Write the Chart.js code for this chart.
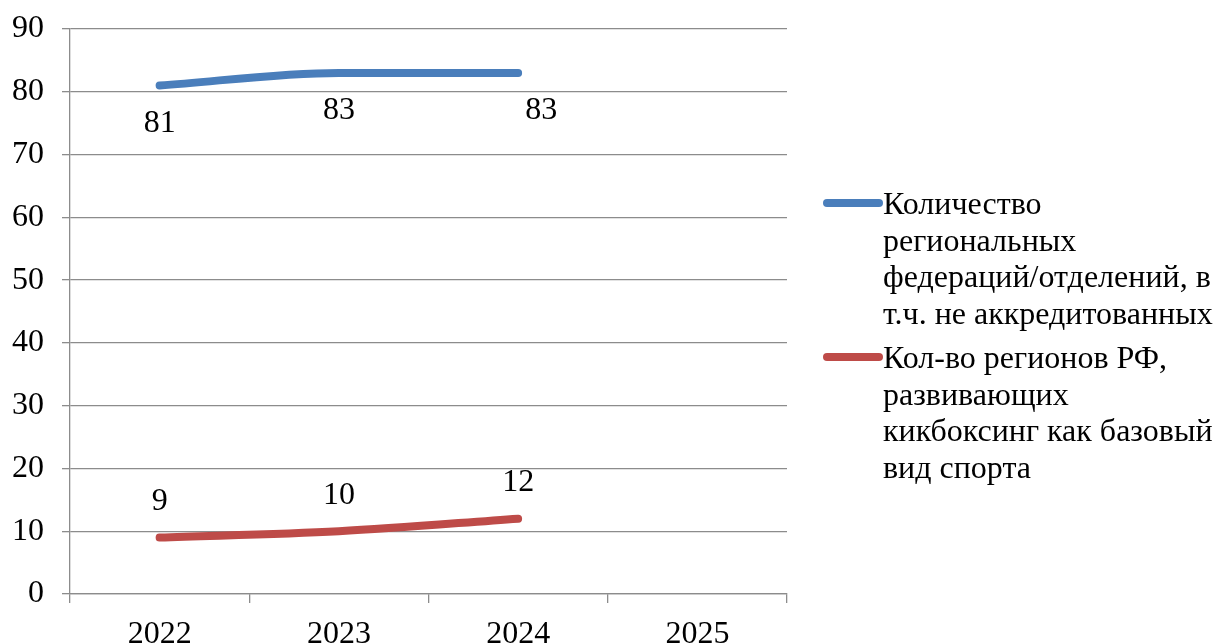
<!DOCTYPE html>
<html lang="ru">
<head>
  <meta charset="UTF-8" />
  <title>Кикбоксинг — регионы</title>
  <script src="https://cdn.jsdelivr.net/npm/chart.js"></script>
  <style>
    html, body { margin: 0; padding: 0; background: #fff; overflow: hidden; }
    .wrap { position: relative; width: 1216px; height: 643px; }
    #legend { position: absolute; left: 823px; top: 185px; font-family: "Liberation Serif", "Times New Roman", serif; font-size: 32px; line-height: 36.5px; color: #000; }
    .item { display: flex; align-items: flex-start; margin-bottom: 8px; }
    .swatch { width: 60px; height: 8px; border-radius: 4px; margin-top: 14px; flex: none; }
    .text { width: 334px; }
  </style>
</head>
<body>
  <div class="wrap">
    <canvas id="grafico" width="1216" height="643"></canvas>
    <div id="legend"></div>
  </div>

  <script>
    // данные
    const years = ['2022', '2023', '2024', '2025'];
    const federacii = [81, 83, 83, null];
    const regionyBazovyi = [9, 10, 12, null];
    const yTicks = [0, 10, 20, 30, 40, 50, 60, 70, 80, 90];

    const FONT = '"Liberation Serif", "Times New Roman", serif';
    const GRID = '#8c8c8c';

    // подписи значений (как в Excel)
    const valueLabels = {
      id: 'valueLabels',
      afterDatasetsDraw(chart) {
        const ctx = chart.ctx;
        ctx.save();
        ctx.font = '32px ' + FONT;
        ctx.fillStyle = '#000';
        ctx.textAlign = 'center';
        ctx.textBaseline = 'middle';
        chart.data.datasets.forEach((ds, i) => {
          const meta = chart.getDatasetMeta(i);
          meta.data.forEach((pt, j) => {
            const v = ds.data[j];
            if (v === null) return;
            const dx = (ds.labelDx && ds.labelDx[j]) || 0;
            ctx.fillText(String(v), pt.x + dx, pt.y + ds.labelDy);
          });
        });
        ctx.restore();
      }
    };

    const ctx = document.getElementById('grafico').getContext('2d');
    const chart = new Chart(ctx, {
      type: 'line',
      data: {
        labels: years,
        datasets: [
          {
            label: 'Количество региональных федераций/отделений, в т.ч. не аккредитованных',
            data: federacii,
            borderColor: '#4a7ebb',
            borderWidth: 8,
            borderCapStyle: 'round',
            cubicInterpolationMode: 'monotone',
            pointRadius: 0,
            labelDy: 38,
            labelDx: [0, 0, 23, 0]
          },
          {
            label: 'Кол-во регионов РФ, развивающих кикбоксинг как базовый вид спорта',
            data: regionyBazovyi,
            borderColor: '#be4b48',
            borderWidth: 8,
            borderCapStyle: 'round',
            cubicInterpolationMode: 'monotone',
            pointRadius: 0,
            labelDy: -36
          }
        ]
      },
      options: {
        responsive: false,
        animation: false,
        layout: { padding: { top: 29, right: 429, left: 0, bottom: 0 } },
        plugins: {
          legend: { display: false },
          tooltip: { enabled: false }
        },
        scales: {
          x: {
            offset: true,
            afterFit(scale) { scale.height = 49; scale.paddingLeft = 0; scale.paddingRight = 0; },
            grid: { drawOnChartArea: false, drawTicks: true, tickLength: 9, color: GRID, lineWidth: 1.3, offset: true },
            border: { color: GRID, width: 1.3 },
            ticks: { color: '#000', font: { family: FONT, size: 32 }, padding: 12, maxRotation: 0 }
          },
          y: {
            min: 0,
            max: 90,
            afterFit(scale) { scale.width = 70; scale.paddingTop = 0; scale.paddingBottom = 0; },
            afterBuildTicks(scale) { scale.ticks = yTicks.map(v => ({ value: v })); },
            grid: { color: GRID, lineWidth: 1.3, tickLength: 8 },
            border: { color: GRID, width: 1.3 },
            ticks: { color: '#000', font: { family: FONT, size: 32 }, padding: 18 }
          }
        }
      },
      plugins: [valueLabels]
    });

    // легенда справа
    const legend = document.getElementById('legend');
    chart.data.datasets.forEach(ds => {
      const item = document.createElement('div');
      item.className = 'item';
      const sw = document.createElement('div');
      sw.className = 'swatch';
      sw.style.background = ds.borderColor;
      const t = document.createElement('div');
      t.className = 'text';
      t.textContent = ds.label;
      item.appendChild(sw);
      item.appendChild(t);
      legend.appendChild(item);
    });
  </script>
</body>
</html>
